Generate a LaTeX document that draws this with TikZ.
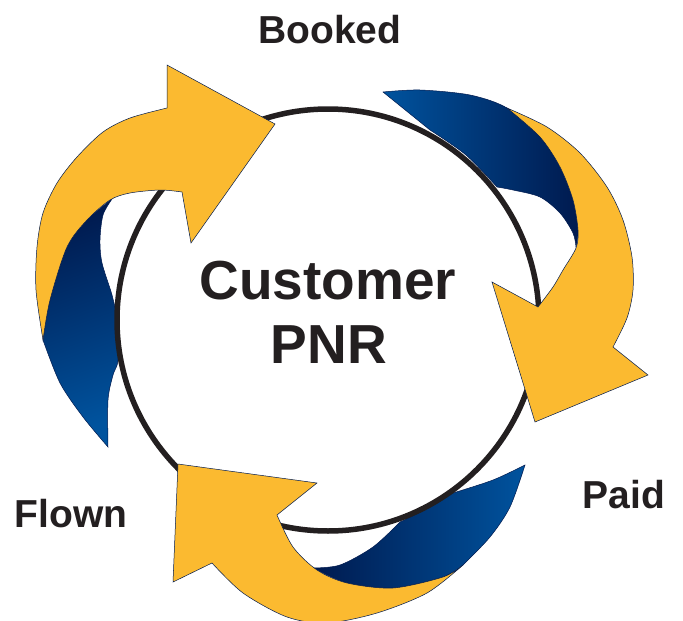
\documentclass[tikz,border=0pt]{standalone}
\usepackage{fontspec}
\setmainfont{Liberation Sans}
\definecolor{pnryellow}{HTML}{FBBA30}
\definecolor{pnrnavy}{HTML}{001A4F}
\definecolor{pnrblue}{HTML}{00539E}
\definecolor{pnrink}{HTML}{231F20}
\tikzset{
  turn/.style={fill=pnryellow, draw=pnrnavy, line width=0.5pt, line join=miter},
  twist/.style={draw=pnrnavy, line width=0.5pt},
  stagename/.style={font=\fontsize{39}{39}\selectfont\bfseries, text=pnrink, anchor=base},
  pnrname/.style={font=\fontsize{55}{55}\selectfont\bfseries, text=pnrink, anchor=base}
}

\begin{document}
\begin{tikzpicture}[x=1pt, y=-1pt]
    \useasboundingbox (0,0) rectangle (683,621);
    \shadedraw[twist, top color=pnrnavy, bottom color=pnrblue, shading angle=20]
      plot[smooth] coordinates {(112,199) (87,220) (67,247) (50,300) (43,340)}
      -- plot[smooth] coordinates {(43,340) (60,383) (83,417) (108,447)}
      -- plot[smooth] coordinates {(108,447) (108,400) (113,375) (118,360) (117,320) (112,295) (102,263) (100,240) (103,215) (112,199)}
      -- cycle;
    \shadedraw[twist, left color=pnrblue, right color=pnrnavy]
      plot[smooth] coordinates {(383,92) (420,90) (470,95) (507,108) (540,137) (560,167) (573,200) (578,230) (576,247)}
      -- plot[smooth] coordinates {(576,247) (573,233) (560,213) (540,197) (513,190) (497,187)}
      -- plot[smooth] coordinates {(497,187) (466,155) (430,130)}
      -- cycle;
    \shadedraw[twist, left color=pnrnavy, right color=pnrblue]
      plot[smooth] coordinates {(525,465) (493,480) (453,493)}
      -- plot[smooth] coordinates {(453,493) (428,508) (400,522)}
      -- plot[smooth] coordinates {(400,522) (373,547) (340,565) (313,568)}
      -- plot[smooth] coordinates {(313,568) (347,583) (393,588) (443,577) (463,565)}
      -- plot[smooth] coordinates {(463,565) (490,537) (510,507) (525,465)}
      -- cycle;
    \draw[pnrink, line width=5.5pt] (328,320) circle (211pt);
    \filldraw[turn]
      plot[smooth] coordinates {(43,340) (36,290) (37,247) (43,213) (57,183) (77,157) (103,132) (130,118) (167,108)}
      -- (167,65) -- (275,124) -- (191,243) -- (182,192)
      -- plot[smooth] coordinates {(182,192) (160,190) (130,193) (110,200) (87,220) (67,247) (50,300) (43,340)}
      -- cycle;
    \filldraw[turn]
      plot[smooth] coordinates {(507,108) (547,127) (580,153) (607,187) (623,220) (632,257) (633,290) (627,318) (613,347)}
      -- (648,375) -- (535,422) -- (492,282) -- (538,307)
      -- plot[smooth] coordinates {(538,307) (553,287) (563,270) (576,248) (578,230) (573,200) (560,167) (540,137) (507,108)}
      -- cycle;
    \filldraw[turn]
      plot[smooth] coordinates {(463,565) (427,593) (377,613) (327,623) (287,617) (243,593) (212,563)}
      -- (173,582) -- (178,464) -- (317,483) -- (277,515)
      -- plot[smooth] coordinates {(277,515) (293,547) (317,570) (347,583) (393,588) (443,577) (463,565)}
      -- cycle;
    \node[stagename] (booked) at (330,43) {Booked};
    \node[stagename] (paid) at (624,508) {Paid};
    \node[stagename] (flown) at (71,527) {Flown};
    \node[pnrname] (customer) at (328,299) {Customer};
    \node[pnrname] (pnr) at (329,363) {PNR};
\end{tikzpicture}
\end{document}
